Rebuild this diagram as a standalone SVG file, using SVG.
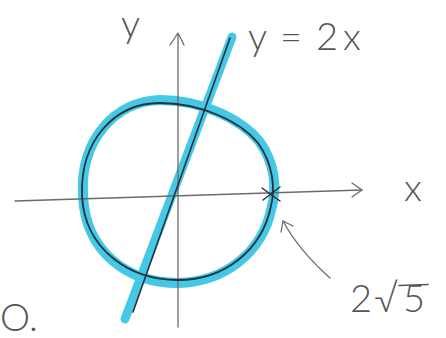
<svg xmlns="http://www.w3.org/2000/svg" width="446" height="338" viewBox="0 0 446 338">
<style>
.t{font-family:Lato,"Liberation Sans",sans-serif;font-weight:300;fill:#555;font-size:38px}
.ax{stroke:#6a6a6a;stroke-width:1.3;fill:none;stroke-linecap:round;stroke-linejoin:round}
.hl{stroke:#45c8e6;fill:none;stroke-linecap:round}
.ink{stroke:#26333a;fill:none;stroke-linecap:round}
</style>
<rect width="446" height="338" fill="#fff"/>
<g id="highlight">
<path class="hl" stroke-width="10" d="M83,195 C80,140 115,101 160,100 C200,100 240,118 259,141 C276,164 277,190 271,210 C262,252 225,282 178,283 C128,283 85,252 83,195 Z"/>
<line class="hl" stroke-width="9" x1="125" y1="319" x2="232" y2="37"/>
</g>
<g id="axes">
<path class="ax" d="M15,201 L362,190"/>
<path class="ax" d="M352,183 L362,190 L352,197"/>
<path class="ax" d="M178,327 L178,34"/>
<path class="ax" d="M170,45 L178,33 L184,45"/>
</g>
<g id="curves">
<path class="ink" stroke-width="1.8" d="M82,196 C80,140 115,103 160,103 C200,103 240,121 258,143 C274,165 275,190 271,206 C262,250 225,280 178,280 C130,280 85,250 82,196 Z"/>
<line class="ink" stroke-width="1.6" x1="133" y1="312" x2="230" y2="38"/>
<path class="ink" stroke-width="1.5" d="M262,188 L280,201 M280,187 L263,200"/>
</g>
<g id="connectors">
<path class="ax" stroke-width="1.5" d="M330,278 C312,262 296,245 283,221"/>
<path class="ax" stroke-width="1.5" d="M281,232 L283,221 L293,226"/>
</g>
<g id="labels">
<text class="t" x="121" y="37">y</text>
<text class="t" y="50"><tspan x="248">y</tspan><tspan x="280">=</tspan><tspan x="316">2</tspan><tspan x="343">x</tspan></text>
<text class="t" x="404" y="201">x</text>
<text class="t" y="312"><tspan x="350">2</tspan><tspan x="374">√</tspan><tspan x="403">5</tspan></text>
<line x1="399" y1="285.5" x2="428" y2="284.5" stroke="#555" stroke-width="1.6" stroke-linecap="round"/>
<text class="t" x="0" y="331">O.</text>
</g>
</svg>
